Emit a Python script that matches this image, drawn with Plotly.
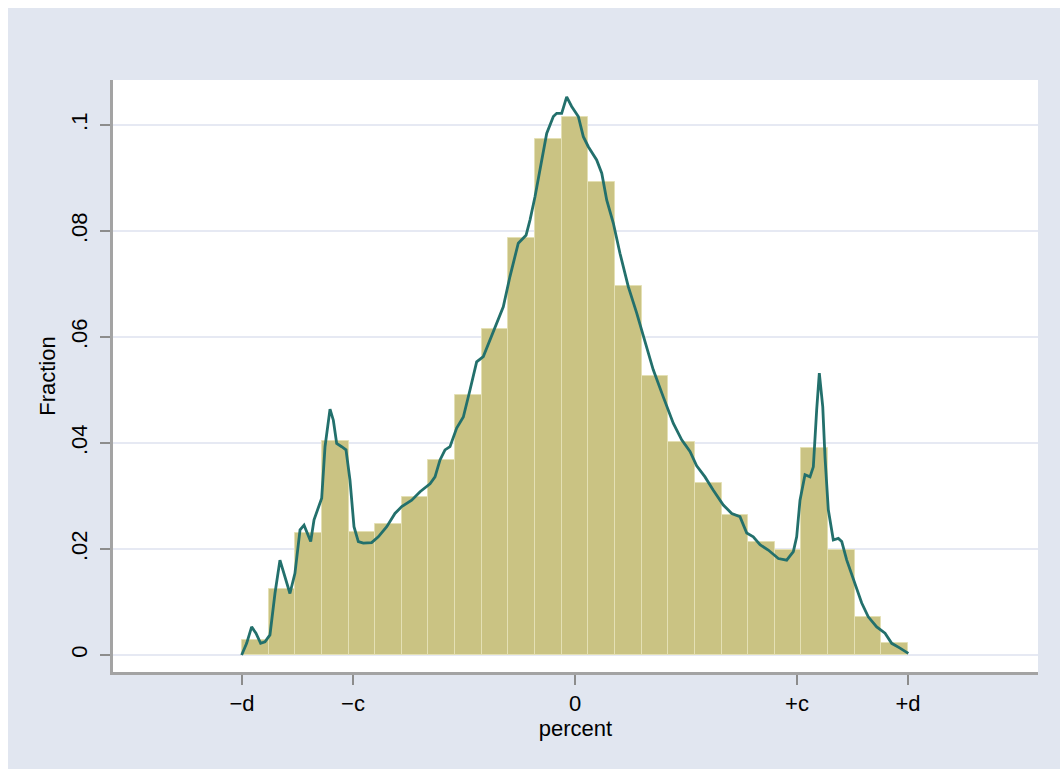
import plotly.graph_objects as go

# Histogram (fraction per bin), 25 bins from -d (-3) to +d (+3)
bin_centers = [-2.88, -2.64, -2.40, -2.16, -1.92, -1.68, -1.44, -1.20, -0.96, -0.72,
               -0.48, -0.24, 0.00, 0.24, 0.48, 0.72, 0.96, 1.20, 1.44, 1.68,
               1.92, 2.16, 2.40, 2.64, 2.88]
fractions = [0.0028, 0.0124, 0.0230, 0.0404, 0.0233, 0.0248, 0.0298, 0.0368, 0.0491, 0.0616,
             0.0786, 0.0973, 0.1015, 0.0893, 0.0696, 0.0526, 0.0401, 0.0324, 0.0264, 0.0214,
             0.0199, 0.0390, 0.0198, 0.0072, 0.0022]
bin_width = 0.24

# Kernel density line
dens_x = [-3.003, -2.958, -2.913, -2.874, -2.832, -2.793, -2.748, -2.703, -2.658, -2.613,
          -2.568, -2.523, -2.477, -2.441, -2.412, -2.381, -2.351, -2.313, -2.282, -2.252,
          -2.223, -2.207, -2.177, -2.147, -2.102, -2.063, -2.027, -1.991, -1.952, -1.907,
          -1.832, -1.772, -1.696, -1.622, -1.561, -1.471, -1.396, -1.306, -1.261, -1.216,
          -1.171, -1.126, -1.066, -1.006, -0.946, -0.886, -0.826, -0.766, -0.691, -0.646,
          -0.586, -0.511, -0.441, -0.405, -0.360, -0.309, -0.255, -0.195, -0.165, -0.120,
          -0.075, -0.030, 0.030, 0.075, 0.120, 0.195, 0.241, 0.286, 0.345, 0.405,
          0.480, 0.556, 0.615, 0.705, 0.795, 0.886, 0.961, 1.036, 1.096, 1.171,
          1.246, 1.336, 1.412, 1.486, 1.547, 1.606, 1.667, 1.741, 1.832, 1.907,
          1.967, 1.997, 2.027, 2.072, 2.117, 2.147, 2.177, 2.201, 2.232, 2.252,
          2.282, 2.327, 2.372, 2.403, 2.448, 2.507, 2.583, 2.642, 2.718, 2.793,
          2.853, 2.928, 3.003]
dens_y = [0.0000, 0.0022, 0.0053, 0.0041, 0.0022, 0.0025, 0.0038, 0.0116, 0.0179, 0.0148,
          0.0116, 0.0154, 0.0236, 0.0245, 0.0230, 0.0214, 0.0255, 0.0277, 0.0296, 0.0393,
          0.0443, 0.0464, 0.0443, 0.0399, 0.0393, 0.0387, 0.0330, 0.0242, 0.0214, 0.0211,
          0.0212, 0.0223, 0.0242, 0.0267, 0.0280, 0.0292, 0.0308, 0.0323, 0.0336, 0.0368,
          0.0387, 0.0393, 0.0428, 0.0449, 0.0500, 0.0553, 0.0563, 0.0594, 0.0635, 0.0657,
          0.0714, 0.0777, 0.0792, 0.0821, 0.0865, 0.0921, 0.0984, 0.1016, 0.1022, 0.1022,
          0.1053, 0.1035, 0.1016, 0.0978, 0.0959, 0.0934, 0.0909, 0.0858, 0.0815, 0.0758,
          0.0695, 0.0645, 0.0601, 0.0538, 0.0487, 0.0437, 0.0406, 0.0384, 0.0357, 0.0336,
          0.0311, 0.0283, 0.0267, 0.0261, 0.0230, 0.0223, 0.0208, 0.0198, 0.0182, 0.0179,
          0.0195, 0.0223, 0.0292, 0.0340, 0.0336, 0.0355, 0.0462, 0.0532, 0.0468, 0.0374,
          0.0274, 0.0217, 0.0220, 0.0214, 0.0179, 0.0142, 0.0098, 0.0072, 0.0053, 0.0041,
          0.0022, 0.0013, 0.0003]

x_tickvals = [-3, -2, 0, 2, 3]
x_ticktext = ["\u2212d", "\u2212c", "0", "+c", "+d"]
y_tickvals = [0, 0.02, 0.04, 0.06, 0.08, 0.1]
y_ticktext = ["0", ".02", ".04", ".06", ".08", ".1"]

FONT = "Liberation Sans, Arial, Helvetica, sans-serif"

fig = go.Figure()
fig.add_trace(go.Bar(
    x=bin_centers, y=fractions, width=bin_width,
    marker=dict(color="#CAC383", line=dict(color="#E4E0B4", width=1)),
    showlegend=False, hoverinfo="x+y",
))
fig.add_trace(go.Scatter(
    x=dens_x, y=dens_y, mode="lines",
    line=dict(color="#23706C", width=2.8),
    showlegend=False,
))

# white strips at top and left edge (outside the grey graph region)
for x0, x1, y0, y1 in [(-0.1222, 1.0238, 1.1216, 1.1400), (-0.1222, -0.1135, -0.1700, 1.1400)]:
    fig.add_shape(type="rect", xref="paper", yref="paper", x0=x0, x1=x1, y0=y0, y1=y1,
                  fillcolor="white", line=dict(width=0), layer="above")

fig.update_layout(
    width=1060, height=769,
    margin=dict(l=113, r=22, t=80, b=97),
    paper_bgcolor="#E1E6F0",
    plot_bgcolor="white",
    bargap=0,
    font=dict(family=FONT, size=22, color="black"),
    xaxis=dict(
        range=[-4.162, 4.171], tickmode="array", tickvals=x_tickvals, ticktext=x_ticktext,
        showgrid=False, zeroline=False, showline=True, linecolor="#A3A3A3", linewidth=3,
        ticks="outside", ticklen=10, tickwidth=2, tickcolor="#8C8C8C",
        tickfont=dict(size=22),
        title=dict(text="percent", font=dict(size=22), standoff=4),
    ),
    yaxis=dict(
        range=[-0.00321, 0.10849], tickmode="array", tickvals=y_tickvals, ticktext=y_ticktext,
        tickangle=-90, ticklabelstandoff=4,
        showgrid=True, gridcolor="#E6E9F3", gridwidth=2, zeroline=False,
        showline=True, linecolor="#A3A3A3", linewidth=3,
        ticks="outside", ticklen=10, tickwidth=2, tickcolor="#8C8C8C",
        tickfont=dict(size=22),
        title=dict(text="Fraction", font=dict(size=22), standoff=6),
    ),
)

fig.write_html("out.html")
